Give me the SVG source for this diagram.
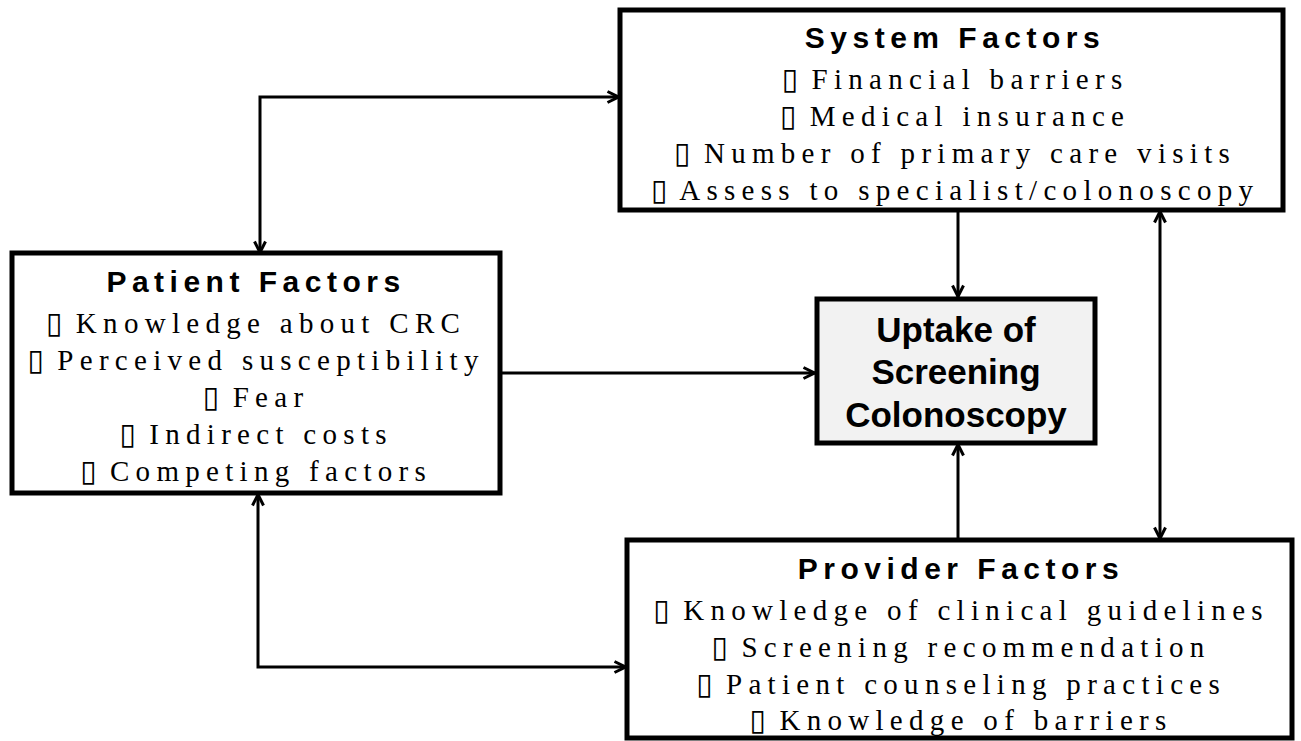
<svg xmlns="http://www.w3.org/2000/svg" width="1301" height="741" viewBox="0 0 1301 741">
<style>
.box{fill:#fff;stroke:#000;stroke-width:5}
.ubox{fill:#f2f2f2;stroke:#000;stroke-width:5}
.title{font-family:"Liberation Sans",Arial,sans-serif;font-weight:bold;font-size:30px;letter-spacing:5.5px;text-anchor:middle}
.item{font-family:"Liberation Serif","DejaVu Serif",serif;font-size:29px;letter-spacing:6.3px;text-anchor:middle}
.bul{font-family:"DejaVu Sans",sans-serif;font-size:30px;letter-spacing:0}
.utitle{font-family:"Liberation Sans",Arial,sans-serif;font-weight:bold;font-size:35px;text-anchor:middle}
.conn{fill:none;stroke:#000;stroke-width:3}
</style>
<defs>
<marker id="arr" viewBox="0 0 14 14" refX="13" refY="7" markerWidth="14" markerHeight="14" markerUnits="userSpaceOnUse" orient="auto-start-reverse">
<path d="M1.5,1.5 L12.5,7 L1.5,12.5" fill="none" stroke="#000" stroke-width="3"/>
</marker>
</defs>
<g id="connectors">
<path class="conn" d="M260,253 L260,97 L619,97" marker-start="url(#arr)" marker-end="url(#arr)"/>
<path class="conn" d="M500,373 L815,373" marker-end="url(#arr)"/>
<path class="conn" d="M958,211 L958,297" marker-end="url(#arr)"/>
<path class="conn" d="M958,539 L958,444" marker-end="url(#arr)"/>
<path class="conn" d="M1160,211 L1160,539" marker-start="url(#arr)" marker-end="url(#arr)"/>
<path class="conn" d="M258,494 L258,667 L626,667" marker-start="url(#arr)" marker-end="url(#arr)"/>
</g>
<g id="system">
<rect class="box" x="620" y="10" width="663" height="200"/>
<text class="title" x="955" y="48">System Factors</text>
<text class="item" x="955" y="89"><tspan class="bul">▯</tspan> Financial barriers</text>
<text class="item" x="955" y="126"><tspan class="bul">▯</tspan> Medical insurance</text>
<text class="item" x="955" y="163"><tspan class="bul">▯</tspan> Number of primary care visits</text>
<text class="item" x="955" y="200"><tspan class="bul">▯</tspan> Assess to specialist/colonoscopy</text>
</g>
<g id="patient">
<rect class="box" x="12" y="253" width="488" height="240"/>
<text class="title" x="256" y="292">Patient Factors</text>
<text class="item" x="256" y="333"><tspan class="bul">▯</tspan> Knowledge about CRC</text>
<text class="item" x="256" y="370"><tspan class="bul">▯</tspan> Perceived susceptibility</text>
<text class="item" x="256" y="407"><tspan class="bul">▯</tspan> Fear</text>
<text class="item" x="256" y="444"><tspan class="bul">▯</tspan> Indirect costs</text>
<text class="item" x="256" y="481"><tspan class="bul">▯</tspan> Competing factors</text>
</g>
<g id="uptake">
<rect class="ubox" x="817" y="299" width="278" height="144"/>
<text class="utitle" x="956" y="342">Uptake of</text>
<text class="utitle" x="956" y="384">Screening</text>
<text class="utitle" x="956" y="427">Colonoscopy</text>
</g>
<g id="provider">
<rect class="box" x="627" y="540" width="665" height="198"/>
<text class="title" x="961" y="579">Provider Factors</text>
<text class="item" x="961" y="620"><tspan class="bul">▯</tspan> Knowledge of clinical guidelines</text>
<text class="item" x="961" y="657"><tspan class="bul">▯</tspan> Screening recommendation</text>
<text class="item" x="961" y="694"><tspan class="bul">▯</tspan> Patient counseling practices</text>
<text class="item" x="961" y="730"><tspan class="bul">▯</tspan> Knowledge of barriers</text>
</g>
</svg>
